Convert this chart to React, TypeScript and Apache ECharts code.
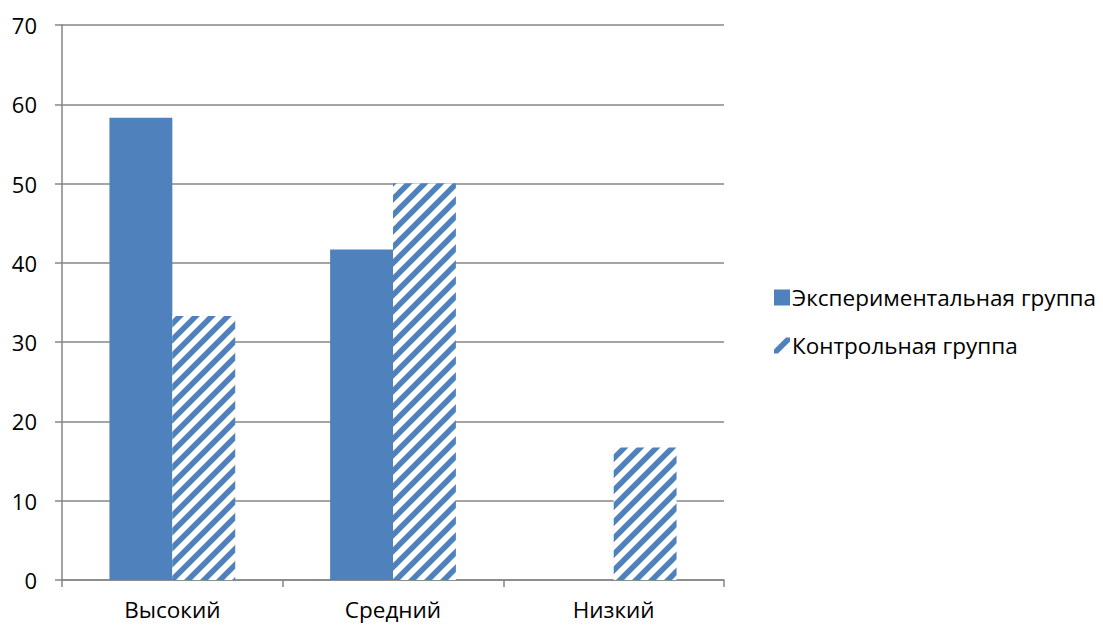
import React, { useEffect, useRef } from "react";
import * as echarts from "echarts";

const categories = ["Высокий", "Средний", "Низкий"];
const experimental = [58.3, 41.7, 0];
const control = [33.3, 50, 16.7];
const seriesNames = ["Экспериментальная группа", "Контрольная группа"];
const yMax = 70;
const yInterval = 10;

const BLUE = "#4F81BD";
const GRAY = "#868686";

function makePattern(): HTMLCanvasElement {
  const s = 16;
  const c = document.createElement("canvas");
  c.width = s;
  c.height = s;
  const ctx = c.getContext("2d")!;
  ctx.fillStyle = "#ffffff";
  ctx.fillRect(0, 0, s, s);
  ctx.strokeStyle = BLUE;
  ctx.lineWidth = 5.5;
  ctx.lineCap = "square";
  for (const off of [-s, 0, s]) {
    ctx.beginPath();
    ctx.moveTo(off, s);
    ctx.lineTo(off + s, 0);
    ctx.stroke();
  }
  return c;
}

export default function App() {
  const ref = useRef<HTMLDivElement>(null);
  useEffect(() => {
    if (!ref.current) return;
    const chart = echarts.init(ref.current, null, { renderer: "svg" });
    const pattern = makePattern();
    const font = "'Open Sans', 'Noto Sans', sans-serif";
    chart.setOption({
      animation: false,
      backgroundColor: "#ffffff",
      grid: { left: 62, right: 379, top: 25, bottom: 45, containLabel: false },
      legend: {
        orient: "vertical",
        left: 769,
        top: 281,
        itemWidth: 16,
        itemHeight: 16,
        itemGap: 25,
        textStyle: { fontFamily: font, fontSize: 22.5, color: "#000", padding: [0, 0, 0, -3] },
        data: [
          { name: seriesNames[0], icon: "rect", itemStyle: { color: BLUE } },
          {
            name: seriesNames[1],
            icon: "path://M0,16 L4,16 L16,4 L16,0 L12,0 L0,12 Z",
            itemStyle: { color: BLUE },
          },
        ],
      },
      xAxis: {
        type: "category",
        data: categories,
        axisLine: { lineStyle: { color: GRAY, width: 1.5 } },
        axisTick: { show: true, length: 7, lineStyle: { color: GRAY, width: 1.5 } },
        axisLabel: { fontFamily: font, fontSize: 22.5, lineHeight: 18, color: "#000", margin: 20 },
      },
      yAxis: {
        type: "value",
        min: 0,
        max: yMax,
        interval: yInterval,
        axisLine: { show: true, lineStyle: { color: GRAY, width: 1.5 } },
        axisTick: { show: true, length: 7, lineStyle: { color: GRAY, width: 1.5 } },
        axisLabel: { fontFamily: font, fontSize: 22, color: "#000", margin: 25 },
        splitLine: { lineStyle: { color: GRAY, width: 1.5 } },
      },
      series: [
        {
          name: seriesNames[0],
          type: "bar",
          data: experimental,
          barGap: "0%",
          barCategoryGap: "43%",
          itemStyle: { color: BLUE },
        },
        {
          name: seriesNames[1],
          type: "bar",
          data: control,
          barGap: "0%",
          barCategoryGap: "43%",
          itemStyle: { color: { image: pattern, repeat: "repeat" } as any },
        },
      ],
    });
    return () => chart.dispose();
  }, []);
  return (
    <div
      ref={ref}
      style={{ position: "fixed", left: 0, top: 0, width: 1103, height: 625 }}
    />
  );
}
